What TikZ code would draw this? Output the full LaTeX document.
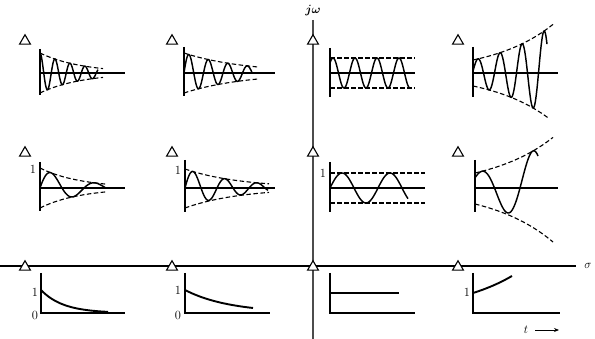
\documentclass[tikz,border=0pt]{standalone}
\usetikzlibrary{shapes.geometric,arrows.meta}
\begin{document}
\begin{tikzpicture}[x=1pt,y=-1pt,
  pole/.style={draw,line width=1.1pt,fill=white,regular polygon,regular polygon sides=3,minimum size=12.5pt,inner sep=0pt},
  mainax/.style={line width=1.7pt,black!70},
  sigax/.style={line width=1.2pt},
  ax/.style={line width=1.2pt},
  wave/.style={line width=1.45pt,smooth},
  tail/.style={line width=1.9pt,smooth},
  env/.style={line width=1.1pt,dash pattern=on 4.5pt off 2.5pt,smooth},
  lbl/.style={font=\fontsize{12.5}{14}\selectfont,inner sep=0pt}]
\useasboundingbox (0,0) rectangle (595,339);
% main axes
\coordinate (jtop) at (313,20);
\coordinate (jbot) at (313,339);
\coordinate (sl) at (0,266);
\coordinate (sr) at (576,266);
\draw[sigax] (sl) -- (sr);
\draw[mainax] (jtop) -- (jbot);
\node[font=\bfseries\boldmath\fontsize{11.5}{13}\selectfont] (jw) at (313,11) {$j\omega$};
\node[font=\fontsize{12.5}{14}\selectfont] (sig) at (588,266) {$\sigma$};
% poles
\foreach \c/\x in {1/25,2/172,3/313,4/458}{
  \node[pole] (p1\c) at (\x,41) {};
  \node[pole] (p2\c) at (\x,153) {};
  \node[pole] (p3\c) at (\x,267) {};
}
% ---------- row 1 ----------
% col1
\draw[ax] (40,49) -- (40,95);
\draw[ax] (40,73) -- (125,73);
\draw[env] plot[domain=0:63,samples=40] ({40+\x},{73-20*exp(-0.024*\x)});
\draw[env] plot[domain=0:63,samples=40] ({40+\x},{73+20*exp(-0.024*\x)});
\draw[wave] plot[domain=0:58,samples=200] ({40+\x},{73-20*exp(-0.024*\x)*cos(\x*24)});
% col2
\draw[ax] (184,47) -- (184,96);
\draw[ax] (184,73) -- (275,73);
\draw[env] plot[domain=0:75,samples=40] ({184+\x},{73-20*exp(-0.0163*\x)});
\draw[env] plot[domain=0:75,samples=40] ({184+\x},{73+20*exp(-0.0163*\x)});
\draw[wave] plot[domain=0:68,samples=200] ({184+\x},{73-20*exp(-0.0163*\x)*sin(\x*18.4615)});
% col3
\draw[ax] (330,48) -- (330,97);
\draw[ax] (330,73) -- (415,73);
\draw[env] (330,58) -- (415,58);
\draw[env] (330,88) -- (415,88);
\draw[wave] plot[domain=0:80,samples=200] ({330+\x},{73-15*cos((\x-3)*16.3636)});
% col4
\draw[ax] (473,47) -- (473,97);
\draw[ax] (473,73) -- (558,73);
\draw[env] plot[domain=0:80,samples=40] ({473+\x},{73-13*exp(0.0165*\x)});
\draw[env] plot[domain=0:76,samples=40] ({473+\x},{73+13*exp(0.0165*\x)});
\draw[wave] plot[domain=0:74,samples=200] ({473+\x},{73-13*exp(0.0165*\x)*cos((\x-5)*16.3636)});
% ---------- row 2 ----------
% col1
\draw[ax] (40,162) -- (40,211);
\draw[ax] (40,188) -- (125,188);
\node[lbl] (l21) at (33,169) {1};
\draw[env] plot[domain=0:66,samples=40] ({40+\x},{188-20*exp(-0.0248*\x)});
\draw[env] plot[domain=0:66,samples=40] ({40+\x},{188+20*exp(-0.0248*\x)});
\draw[wave] plot[domain=0:65,samples=150] ({40+\x},{188-20*exp(-0.0248*\x)*sin(\x*8.1818)});
% col2
\draw[ax] (185,160) -- (185,212);
\draw[ax] (185,188) -- (275,188);
\node[lbl] (l22) at (178,170) {1};
\draw[env] plot[domain=0:84,samples=40] ({185+\x},{188-19*exp(-0.018*\x)});
\draw[env] plot[domain=0:84,samples=40] ({185+\x},{188+20*exp(-0.018*\x)});
\draw[wave] plot[domain=0:83,samples=150] ({185+\x},{188-19*exp(-0.018*\x)*sin(\x*11.25)});
% col3
\draw[ax] (330,162) -- (330,212);
\draw[ax] (330,188) -- (425,188);
\node[lbl] (l23) at (323,173) {1};
\draw[env] (330,173) -- (425,173);
\draw[env] (330,203) -- (425,203);
\draw[wave] plot[domain=0:78,samples=150] ({330+\x},{188-15*sin(\x*7.5)});
% col4
\draw[ax] (475,160) -- (475,212);
\draw[ax] (475,188) -- (558,188);
\draw[env] plot[domain=0:78,samples=40] ({475+\x},{188-15*exp(0.0156*\x)});
\draw[env] plot[domain=0:78,samples=40] ({475+\x},{188+16*exp(0.0156*\x)});
\draw[wave] plot[domain=0:63,samples=150] ({475+\x},{188-15*exp(0.0156*\x)*sin((\x+6)*7.0588)});
% ---------- row 3 ----------
% col1
\draw[ax] (41,273) -- (41,313) -- (125,313);
\node[lbl] (l31a) at (35,292) {1};
\node[lbl] (l31b) at (35,315) {0};
\draw[tail] plot[domain=0:67,samples=60] ({41+\x},{313-23*exp(-0.045*\x)});
% col2
\draw[ax] (185,273) -- (185,313) -- (270,313);
\node[lbl] (l32a) at (178,290) {1};
\node[lbl] (l32b) at (178,315) {0};
\draw[tail] plot[domain=0:68,samples=60] ({185+\x},{313-23*exp(-0.0224*\x)});
% col3
\draw[ax] (330,273) -- (330,313) -- (415,313);
\draw[line width=2pt] (330,293) -- (399,293);
% col4
\draw[ax] (473,273) -- (473,313) -- (560,313);
\node[lbl] (l34a) at (467,292) {1};
\draw[tail] plot[domain=0:39,samples=60] ({473+\x},{313-20*exp(0.0158*\x)});
% t arrow
\node[font=\fontsize{12.5}{14}\selectfont] (tl) at (526,330) {$t$};
\coordinate (ta) at (535,330);
\coordinate (tb) at (559,330);
\draw[line width=0.9pt,-{Stealth[length=5pt,width=4pt]}] (ta) -- (tb);
\end{tikzpicture}
\end{document}
